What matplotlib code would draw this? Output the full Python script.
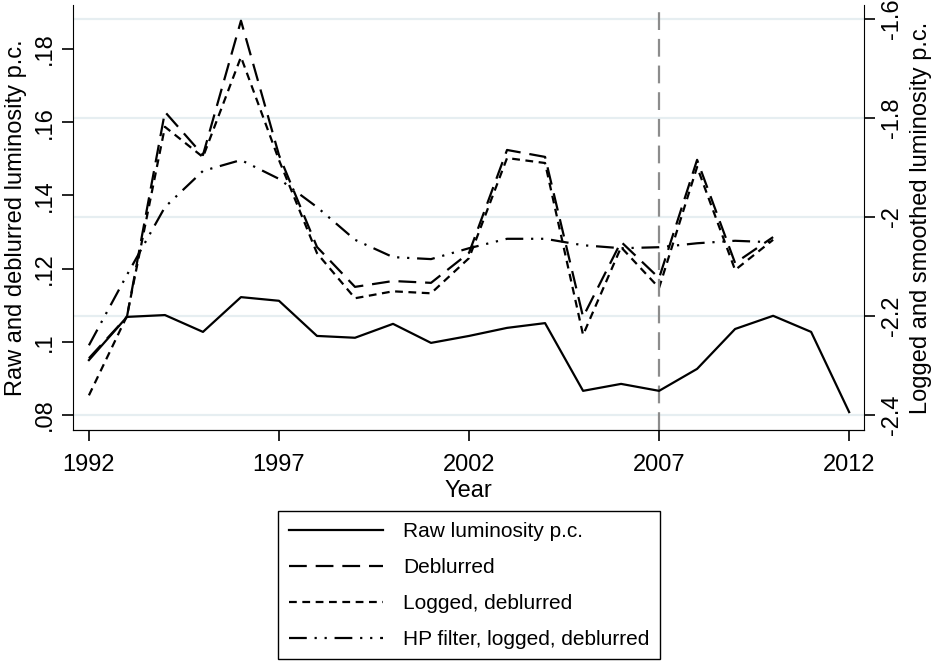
import matplotlib
matplotlib.use("Agg")
import matplotlib.pyplot as plt

plt.rcParams.update({"font.family": ["Liberation Sans", "DejaVu Sans"], "font.size": 17})

years = list(range(1992, 2013))
years_short = list(range(1992, 2011))

raw = [0.0950, 0.1068, 0.1073, 0.1027, 0.1122, 0.1112, 0.1016, 0.1011, 0.1049, 0.0997,
       0.1016, 0.1038, 0.1051, 0.0866, 0.0885, 0.0866, 0.0926, 0.1035, 0.1071, 0.1027, 0.0808]
deblurred = [0.0955, 0.1068, 0.1628, 0.1510, 0.1877, 0.1510, 0.1259, 0.1150, 0.1166, 0.1161,
             0.1243, 0.1524, 0.1505, 0.1068, 0.1273, 0.1174, 0.1497, 0.1215, 0.1286]
logged = [-2.360, -2.200, -1.818, -1.879, -1.677, -1.885, -2.073, -2.164, -2.150, -2.154,
          -2.083, -1.881, -1.891, -2.238, -2.061, -2.143, -1.899, -2.107, -2.046]
hp = [-2.259, -2.117, -1.980, -1.907, -1.885, -1.923, -1.980, -2.046, -2.081, -2.085,
      -2.063, -2.044, -2.044, -2.057, -2.063, -2.061, -2.053, -2.048, -2.051]

left_ticks = [0.08, 0.10, 0.12, 0.14, 0.16, 0.18]
left_labels = [".08", ".1", ".12", ".14", ".16", ".18"]
right_ticks = [-2.4, -2.2, -2.0, -1.8, -1.6]
right_labels = ["-2.4", "-2.2", "-2", "-1.8", "-1.6"]
x_ticks = [1992, 1997, 2002, 2007, 2012]

fig = plt.figure(figsize=(9.33, 6.63), dpi=100)
ax = fig.add_axes([0.0782, 0.3514, 0.8478, 0.6411])
ax2 = ax.twinx()
ax.set_zorder(ax2.get_zorder() + 1)
ax.patch.set_visible(False)

# gridlines follow the right axis ticks
for t in right_ticks:
    ax2.axhline(t, color="#e6eef1", lw=1.6, zorder=0)

ax.axvline(2007, color="#8c8c8c", lw=1.6, dashes=(8, 4), zorder=1)

l1, = ax.plot(years, raw, color="black", lw=1.6, label="Raw luminosity p.c.")
l2, = ax.plot(years_short, deblurred, color="black", lw=1.6, dashes=(8, 4), label="Deblurred")
l3, = ax2.plot(years_short, logged, color="black", lw=1.6, dashes=(3.5, 2.5), label="Logged, deblurred")
l4, = ax2.plot(years_short, hp, color="black", lw=1.6, dashes=(8, 3.5, 1, 3.5, 1, 3.5),
               label="HP filter, logged, deblurred")

ax.set_xlim(1991.58, 2012.39)
ax.set_ylim(0.0759, 0.192)
ax2.set_ylim(-2.430, -1.572)

ax.set_xticks(x_ticks)
ax.set_yticks(left_ticks)
ax.set_yticklabels(left_labels, rotation=90, va="center")
ax2.set_yticks(right_ticks)
ax2.set_yticklabels(right_labels, rotation=90, va="center")

for a in (ax, ax2):
    a.spines["top"].set_visible(False)
    a.tick_params(direction="out", length=8, width=1.2, labelsize=17, pad=4)
ax.tick_params(axis="x", pad=9)
ax.spines["right"].set_visible(False)
ax2.spines["left"].set_visible(False)

ax.set_xlabel("Year", fontsize=17, labelpad=3)
ax.set_ylabel("Raw and deblurred luminosity p.c.", fontsize=17, labelpad=5)
ax2.set_ylabel("Logged and smoothed luminosity p.c.", fontsize=17, rotation=90, labelpad=5)

leg = fig.legend(handles=[l1, l2, l3, l4], loc="center", bbox_to_anchor=(0.503, 0.117),
                 fontsize=15, handlelength=4.5, labelspacing=0.82, borderpad=0.5,
                 handletextpad=1.0, fancybox=False, edgecolor="black", framealpha=1)
leg.get_frame().set_linewidth(1.0)

fig.savefig("out.png", dpi=100)
